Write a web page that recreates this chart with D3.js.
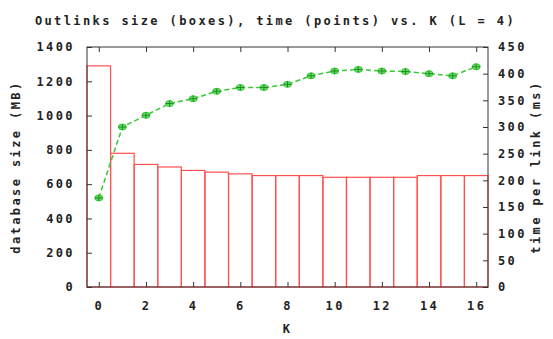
<!DOCTYPE html>
<html>
<head>
<meta charset="utf-8">
<script src="https://cdn.jsdelivr.net/npm/d3@7"></script>
<style>
  body { margin: 0; background: #fff; }
  text { font-family: "DejaVu Sans Mono", monospace; font-weight: bold; font-size: 12px; fill: #222; letter-spacing: 2.4px; }
</style>
</head>
<body>
<div id="chart"></div>
<script>
const title = "Outlinks size (boxes), time (points) vs. K (L = 4)";
const kValues = d3.range(0, 17);
const sizeMB = [1290, 780, 715, 700, 680, 670, 660, 650, 650, 650, 640, 640, 640, 640, 650, 650, 650];
const timeMs = [167, 300, 322, 344, 353, 367, 374, 374, 380, 396, 405, 408, 405, 404, 400, 396, 413];
const xTicks = [0, 2, 4, 6, 8, 10, 12, 14, 16];
const yTicks = [0, 200, 400, 600, 800, 1000, 1200, 1400];
const y2Ticks = [0, 50, 100, 150, 200, 250, 300, 350, 400, 450];

const W = 553, H = 339;
const margin = { top: 47, right: 65, bottom: 52, left: 87 };
const width = W - margin.left - margin.right;
const height = H - margin.top - margin.bottom;

const svg = d3.select("#chart").append("svg")
  .attr("width", W).attr("height", H);
const g = svg.append("g").attr("transform", `translate(${margin.left},${margin.top})`);

const x = d3.scaleLinear().domain([-0.5, 16.5]).range([0, width]);
const y = d3.scaleLinear().domain([0, 1400]).range([height, 0]);
const y2 = d3.scaleLinear().domain([0, 450]).range([height, 0]);

// boxes
g.selectAll(".bar")
  .data(kValues)
  .join("rect")
  .attr("class", "bar")
  .attr("x", k => x(k - 0.5))
  .attr("y", k => y(sizeMB[k]))
  .attr("width", x(1) - x(0))
  .attr("height", k => height - y(sizeMB[k]))
  .attr("fill", "none")
  .attr("stroke", "#ff5050")
  .attr("stroke-width", 1.2);

// axes, gnuplot style: ticks inside
const tick = 5;
const fmt = d3.format("d");
const xAxisBottom = d3.axisBottom(x).tickValues(xTicks).tickSize(-tick).tickPadding(14).tickFormat(fmt);
const xAxisTop = d3.axisTop(x).tickValues(xTicks).tickSize(-tick).tickFormat("");
const yAxis = d3.axisLeft(y).tickValues(yTicks).tickSize(-tick).tickPadding(12).tickFormat(fmt);
const y2Axis = d3.axisRight(y2).tickValues(y2Ticks).tickSize(-tick).tickPadding(10).tickFormat(fmt);

function style(sel) {
  sel.select(".domain").remove();
  sel.selectAll("line").attr("stroke", "#333");
  sel.selectAll("text").style("font-size", "12px").attr("fill", "#222");
}
g.append("g").attr("transform", `translate(0,${height})`).call(xAxisBottom).call(style);
g.append("g").call(xAxisTop).call(style);
g.append("g").call(yAxis).call(style);
g.append("g").attr("transform", `translate(${width},0)`).call(y2Axis).call(style);

// frame
g.append("rect")
  .attr("width", width).attr("height", height)
  .attr("fill", "none").attr("stroke", "#333").attr("stroke-width", 1);

// time line
const line = d3.line()
  .x(k => x(k))
  .y(k => y2(timeMs[k]));
g.append("path")
  .datum(kValues)
  .attr("d", line)
  .attr("fill", "none")
  .attr("stroke", "#33cc33")
  .attr("stroke-width", 1.5)
  .attr("stroke-dasharray", "5,3");

const pts = g.selectAll(".pt")
  .data(kValues)
  .join("g")
  .attr("class", "pt")
  .attr("transform", k => `translate(${x(k)},${y2(timeMs[k])})`);
pts.append("ellipse").attr("rx", 4).attr("ry", 3)
  .attr("fill", "#66dd66").attr("stroke", "#33cc33");
pts.append("path").attr("d", "M-4,0H4M0,-3V3")
  .attr("stroke", "#228822").attr("stroke-width", 1);

// labels
svg.append("text")
  .attr("x", margin.left + width / 2 - 12).attr("y", 25)
  .attr("text-anchor", "middle")
  .text(title);
svg.append("text")
  .attr("x", margin.left + width / 2).attr("y", 333)
  .attr("text-anchor", "middle")
  .text("K");
svg.append("text")
  .attr("transform", `translate(20,${margin.top + height / 2}) rotate(-90)`)
  .attr("text-anchor", "middle")
  .text("database size (MB)");
svg.append("text")
  .attr("transform", `translate(540,${margin.top + height / 2}) rotate(-90)`)
  .attr("text-anchor", "middle")
  .text("time per link (ms)");
</script>
</body>
</html>
